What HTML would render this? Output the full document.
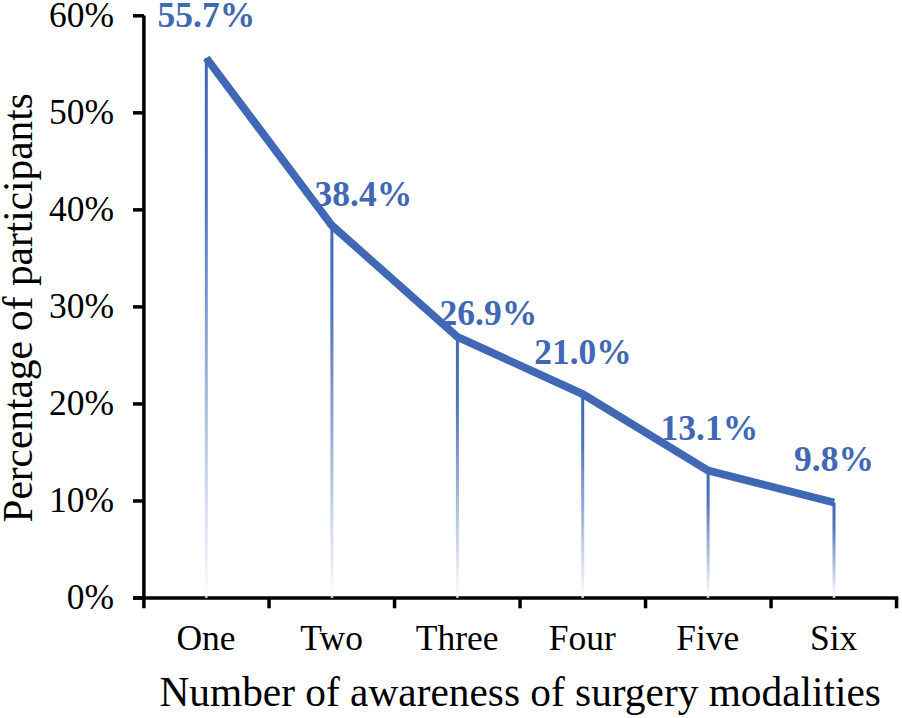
<!DOCTYPE html>
<html><head><meta charset="utf-8"><style>
html,body{margin:0;padding:0;background:#fff;width:902px;height:718px;overflow:hidden;font-family:"Liberation Serif",serif;}
svg{display:block}
</style></head><body>
<svg width="902" height="718" viewBox="0 0 902 718">
<defs><linearGradient id="g" x1="0" y1="0" x2="0" y2="1">
<stop offset="0" stop-color="#4068B4" stop-opacity="1"/>
<stop offset="0.25" stop-color="#4068B4" stop-opacity="0.92"/>
<stop offset="1" stop-color="#4068B4" stop-opacity="0.02"/></linearGradient></defs>
<rect x="204.80" y="58.00" width="3.0" height="538.25" fill="url(#g)"/>
<rect x="330.40" y="225.53" width="3.0" height="370.72" fill="url(#g)"/>
<rect x="455.90" y="336.90" width="3.0" height="259.35" fill="url(#g)"/>
<rect x="581.20" y="394.04" width="3.0" height="202.21" fill="url(#g)"/>
<rect x="706.60" y="470.54" width="3.0" height="125.71" fill="url(#g)"/>
<rect x="832.50" y="502.50" width="3.0" height="93.75" fill="url(#g)"/>
<line x1="143.90" y1="15.60" x2="143.90" y2="608.3" stroke="#000" stroke-width="3.5"/>
<line x1="133" y1="598.00" x2="898.30" y2="598.00" stroke="#000" stroke-width="3.5"/>
<line x1="133" y1="598.00" x2="143.90" y2="598.00" stroke="#000" stroke-width="3.5"/>
<line x1="133" y1="500.97" x2="143.90" y2="500.97" stroke="#000" stroke-width="3.5"/>
<line x1="133" y1="403.93" x2="143.90" y2="403.93" stroke="#000" stroke-width="3.5"/>
<line x1="133" y1="306.90" x2="143.90" y2="306.90" stroke="#000" stroke-width="3.5"/>
<line x1="133" y1="209.87" x2="143.90" y2="209.87" stroke="#000" stroke-width="3.5"/>
<line x1="133" y1="112.83" x2="143.90" y2="112.83" stroke="#000" stroke-width="3.5"/>
<line x1="133" y1="15.80" x2="143.90" y2="15.80" stroke="#000" stroke-width="3.5"/>
<line x1="269.05" y1="598.00" x2="269.05" y2="608.3" stroke="#000" stroke-width="3.5"/>
<line x1="394.55" y1="598.00" x2="394.55" y2="608.3" stroke="#000" stroke-width="3.5"/>
<line x1="520.05" y1="598.00" x2="520.05" y2="608.3" stroke="#000" stroke-width="3.5"/>
<line x1="645.55" y1="598.00" x2="645.55" y2="608.3" stroke="#000" stroke-width="3.5"/>
<line x1="771.05" y1="598.00" x2="771.05" y2="608.3" stroke="#000" stroke-width="3.5"/>
<line x1="896.55" y1="598.00" x2="896.55" y2="608.3" stroke="#000" stroke-width="3.5"/>
<rect x="205.10" y="596.25" width="2.4" height="1.6" fill="#fff"/>
<rect x="330.70" y="596.25" width="2.4" height="1.6" fill="#fff"/>
<rect x="456.20" y="596.25" width="2.4" height="1.6" fill="#fff"/>
<rect x="581.50" y="596.25" width="2.4" height="1.6" fill="#fff"/>
<rect x="706.90" y="596.25" width="2.4" height="1.6" fill="#fff"/>
<rect x="832.80" y="596.25" width="2.4" height="1.6" fill="#fff"/>
<polyline points="206.30,58.00 331.90,225.53 457.40,336.90 582.70,394.04 708.10,470.54 834.00,502.50" fill="none" stroke="#4068B4" stroke-width="7.9" stroke-linejoin="miter" stroke-linecap="butt"/>
<text x="114" y="609.20" text-anchor="end" font-family="Liberation Serif" font-size="35.5">0%</text>
<text x="114" y="512.12" text-anchor="end" font-family="Liberation Serif" font-size="35.5">10%</text>
<text x="114" y="415.03" text-anchor="end" font-family="Liberation Serif" font-size="35.5">20%</text>
<text x="114" y="317.95" text-anchor="end" font-family="Liberation Serif" font-size="35.5">30%</text>
<text x="114" y="220.87" text-anchor="end" font-family="Liberation Serif" font-size="35.5">40%</text>
<text x="114" y="123.78" text-anchor="end" font-family="Liberation Serif" font-size="35.5">50%</text>
<text x="114" y="26.70" text-anchor="end" font-family="Liberation Serif" font-size="35.5">60%</text>
<text x="206.00" y="649.6" text-anchor="middle" font-family="Liberation Serif" font-size="35.5">One</text>
<text x="331.60" y="649.6" text-anchor="middle" font-family="Liberation Serif" font-size="35.5">Two</text>
<text x="457.10" y="649.6" text-anchor="middle" font-family="Liberation Serif" font-size="35.5">Three</text>
<text x="582.40" y="649.6" text-anchor="middle" font-family="Liberation Serif" font-size="35.5">Four</text>
<text x="707.80" y="649.6" text-anchor="middle" font-family="Liberation Serif" font-size="35.5">Five</text>
<text x="833.70" y="649.6" text-anchor="middle" font-family="Liberation Serif" font-size="35.5">Six</text>
<text x="157.6" y="26.5" font-family="Liberation Serif" font-weight="bold" font-size="35.5" fill="#4068B4">55.7%</text>
<text x="314.6" y="205.6" font-family="Liberation Serif" font-weight="bold" font-size="35.5" fill="#4068B4">38.4%</text>
<text x="439.6" y="324.7" font-family="Liberation Serif" font-weight="bold" font-size="35.5" fill="#4068B4">26.9%</text>
<text x="534.2" y="363.6" font-family="Liberation Serif" font-weight="bold" font-size="35.5" fill="#4068B4">21.0%</text>
<text x="660.6" y="440.3" font-family="Liberation Serif" font-weight="bold" font-size="35.5" fill="#4068B4">13.1%</text>
<text x="794.1" y="471.3" font-family="Liberation Serif" font-weight="bold" font-size="35.5" fill="#4068B4">9.8%</text>
<text x="159.5" y="706.1" font-family="Liberation Serif" font-size="41.35">Number of awareness of surgery modalities</text>
<text transform="translate(32.3,307.9) rotate(-90)" text-anchor="middle" font-family="Liberation Serif" font-size="41.35">Percentage of participants</text>
</svg>
</body></html>
